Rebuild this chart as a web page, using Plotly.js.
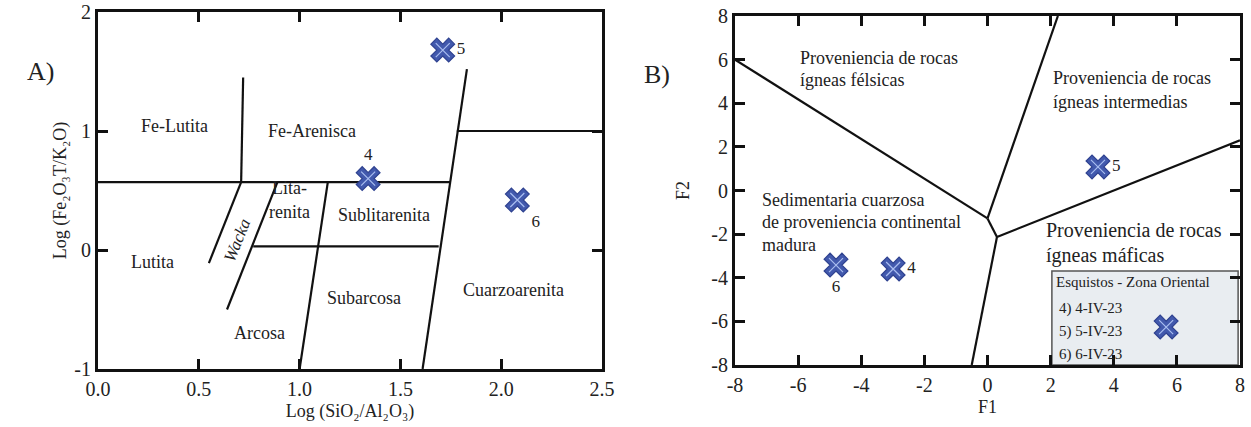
<!DOCTYPE html>
<html><head><meta charset="utf-8">
<script src="https://cdn.plot.ly/plotly-3.0.1.min.js"></script>
<style>html,body{margin:0;padding:0;background:#fff}#chart{width:1251px;height:427px}</style>
</head><body><div id="chart"></div>
<script>
// ---------- data ----------
const sampleIds = ['4', '5', '6'];
// Panel A: Log(SiO2/Al2O3) vs Log(Fe2O3T/K2O)
const aSampleX = [1.34, 1.71, 2.08];
const aSampleY = [0.60, 1.68, 0.42];
const aLabelPos = ['top center', 'middle right', 'bottom right'];
// Panel B: F1 vs F2
const bSampleX = [-2.99, 3.50, -4.80];
const bSampleY = [-3.60, 1.08, -3.42];
const bLabelPos = ['middle right', 'middle right', 'bottom center'];
const legendTitle = 'Esquistos - Zona Oriental';
const legendEntries = ['4) 4-IV-23', '5) 5-IV-23', '6) 6-IV-23'];

// tick values / labels
const aXTicks = [0, 0.5, 1, 1.5, 2, 2.5];
const aXTickText = ['0.0', '0.5', '1.0', '1.5', '2.0', '2.5'];
const aYTicks = [-1, 0, 1, 2];
const aYTickText = ['-1', '0', '1', '2'];
const bTicks = [-8, -6, -4, -2, 0, 2, 4, 6, 8];
const bTickText = ['-8', '-6', '-4', '-2', '0', '2', '4', '6', '8'];

// Panel A field boundaries (segments)
const aBoundX = [[0, 1.75], [0.72, 0.71], [0.71, 0.55], [0.89, 0.64], [1.14, 1.00], [0.77, 1.69], [1.83, 1.61], [1.78, 2.5]];
const aBoundY = [[0.57, 0.57], [1.45, 0.57], [0.57, -0.11], [0.57, -0.50], [0.57, -1], [0.03, 0.03], [1.52, -1], [1.0, 1.0]];
// Panel A field names (one entry per text line)
const aFieldNames = ['Fe-Lutita', 'Fe-Arenisca', 'Lutita', 'Lita-', 'renita', 'Sublitarenita', 'Subarcosa', 'Arcosa', 'Cuarzoarenita'];
const aFieldX = [0.38, 1.06, 0.27, 0.95, 0.95, 1.42, 1.32, 0.80, 2.06];
const aFieldY = [1.04, 1.00, -0.10, 0.52, 0.32, 0.29, -0.40, -0.70, -0.34];
const wackaX = 0.69, wackaY = 0.08;

// Panel B field boundaries (segments)
const bBoundX = [[-8, 0], [0, 2.23], [0, 0.30], [0.30, 8], [0.30, -0.50]];
const bBoundY = [[6.0, -1.28], [-1.28, 8], [-1.28, -2.13], [-2.13, 2.3], [-2.13, -8]];
// Panel B field names (one entry per text line)
const bFieldLines = ['Proveniencia de rocas', 'ígneas félsicas', 'Proveniencia de rocas', 'ígneas intermedias',
  'Sedimentaria cuarzosa', 'de proveniencia continental', 'madura', 'Proveniencia de rocas', 'ígneas máficas'];
const bFieldX = [-6.0, -6.0, 2.0, 2.0, -7.2, -7.2, -7.2, 1.8, 1.8];
const bFieldY = [6.07, 5.05, 5.17, 4.05, -0.42, -1.45, -2.48, -1.82, -2.98];
const bFieldSize = [18, 18, 18, 18, 18, 18, 18, 20, 20];

// ---------- build ----------
const FONT = 'Liberation Serif, Times New Roman, serif';
function segs(X, Y) {
  const x = [], y = [];
  X.forEach((s, i) => { x.push(s[0], s[1], null); y.push(Y[i][0], Y[i][1], null); });
  return {x, y};
}
const sa = segs(aBoundX, aBoundY), sb = segs(bBoundX, bBoundY);
const lineStyle = {color: '#111', width: 2.2};
const mk = {symbol: 'x', size: 21, color: '#4259ad', line: {color: '#2f4290', width: 1.2}};
const mkIn = {symbol: 'x-thin', size: 14, color: '#a9bdf0', line: {color: '#a9bdf0', width: 1.2}};

const traces = [
  {x: sa.x, y: sa.y, mode: 'lines', line: lineStyle, xaxis: 'x', yaxis: 'y', hoverinfo: 'skip'},
  {x: sb.x, y: sb.y, mode: 'lines', line: lineStyle, xaxis: 'x2', yaxis: 'y2', hoverinfo: 'skip'},
  {x: aSampleX, y: aSampleY, mode: 'markers+text', text: sampleIds, textposition: aLabelPos,
   textfont: {family: FONT, size: 17, color: '#222'}, marker: mk, xaxis: 'x', yaxis: 'y'},
  {x: aSampleX, y: aSampleY, mode: 'markers', marker: mkIn, xaxis: 'x', yaxis: 'y', hoverinfo: 'skip'},
  {x: bSampleX, y: bSampleY, mode: 'markers+text', text: sampleIds, textposition: bLabelPos,
   textfont: {family: FONT, size: 17, color: '#222'}, marker: mk, xaxis: 'x2', yaxis: 'y2'},
  {x: bSampleX, y: bSampleY, mode: 'markers', marker: mkIn, xaxis: 'x2', yaxis: 'y2', hoverinfo: 'skip'},
  {x: [5.66], y: [-6.26], mode: 'markers', marker: mk, xaxis: 'x2', yaxis: 'y2', hoverinfo: 'skip'},
  {x: [5.66], y: [-6.26], mode: 'markers', marker: mkIn, xaxis: 'x2', yaxis: 'y2', hoverinfo: 'skip'}
];

const annotations = [];
aFieldNames.forEach((t, i) => annotations.push({x: aFieldX[i], y: aFieldY[i], xref: 'x', yref: 'y', text: t,
  showarrow: false, font: {family: FONT, size: 18, color: '#222'}}));
annotations.push({x: wackaX, y: wackaY, xref: 'x', yref: 'y', text: '<i>Wacka</i>', textangle: -68,
  showarrow: false, font: {family: FONT, size: 17, color: '#222'}});
bFieldLines.forEach((t, i) => annotations.push({x: bFieldX[i], y: bFieldY[i], xref: 'x2', yref: 'y2', text: t,
  xanchor: 'left', align: 'left', showarrow: false, font: {family: FONT, size: bFieldSize[i], color: '#222'}}));
annotations.push({x: 2.1, y: -4.2, xref: 'x2', yref: 'y2', text: legendTitle, xanchor: 'left', showarrow: false,
  font: {family: FONT, size: 15, color: '#222'}});
legendEntries.forEach((t, i) => annotations.push({x: 2.2, y: -5.4 - i * 1.05, xref: 'x2', yref: 'y2', text: t,
  xanchor: 'left', showarrow: false, font: {family: FONT, size: 15, color: '#222'}}));
annotations.push({x: 25 / 1251, y: 1 - 55 / 427, xref: 'paper', yref: 'paper', text: 'A)', showarrow: false,
  font: {family: FONT, size: 26, color: '#222'}});
annotations.push({x: 657 / 1251, y: 1 - 58 / 427, xref: 'paper', yref: 'paper', text: 'B)', showarrow: false,
  font: {family: FONT, size: 26, color: '#222'}});

const shapes = [{type: 'rect', xref: 'x2', yref: 'y2', x0: 2.04, x1: 7.94, y0: -8, y1: -3.69,
  fillcolor: '#e9edf1', line: {color: '#555', width: 1.5}, layer: 'below'}];

function ax(extra) {
  return Object.assign({
    showgrid: false, zeroline: false, showline: true, linecolor: '#111', linewidth: 3, mirror: 'ticks',
    ticks: 'inside', ticklen: 10, tickwidth: 3, tickcolor: '#111',
    tickfont: {family: FONT, size: 20, color: '#222'}, fixedrange: true
  }, extra);
}
const layout = {
  width: 1251, height: 427, margin: {l: 0, r: 0, t: 0, b: 0},
  paper_bgcolor: '#fff', plot_bgcolor: '#fff', showlegend: false,
  font: {family: FONT, color: '#222'},
  xaxis: ax({domain: [98 / 1251, 602 / 1251], range: [0, 2.5], tickvals: aXTicks, ticktext: aXTickText, anchor: 'y',
    title: {text: 'Log (SiO₂/Al₂O₃)', font: {family: FONT, size: 18}, standoff: 6}}),
  yaxis: ax({domain: [58 / 427, 415 / 427], range: [-1, 2], tickvals: aYTicks, ticktext: aYTickText, anchor: 'x',
    title: {text: 'Log (Fe₂O₃T/K₂O)', font: {family: FONT, size: 18}, standoff: 4}}),
  xaxis2: ax({domain: [735 / 1251, 1240 / 1251], range: [-8, 8], tickvals: bTicks, ticktext: bTickText, anchor: 'y2',
    title: {text: 'F1', font: {family: FONT, size: 18}, standoff: 6}}),
  yaxis2: ax({domain: [62 / 427, 411 / 427], range: [-8, 8], tickvals: bTicks, ticktext: bTickText, anchor: 'x2',
    title: {text: 'F2', font: {family: FONT, size: 18}, standoff: 18}}),
  annotations, shapes
};
Plotly.newPlot('chart', traces, layout, {staticPlot: true, displayModeBar: false});
</script></body></html>
